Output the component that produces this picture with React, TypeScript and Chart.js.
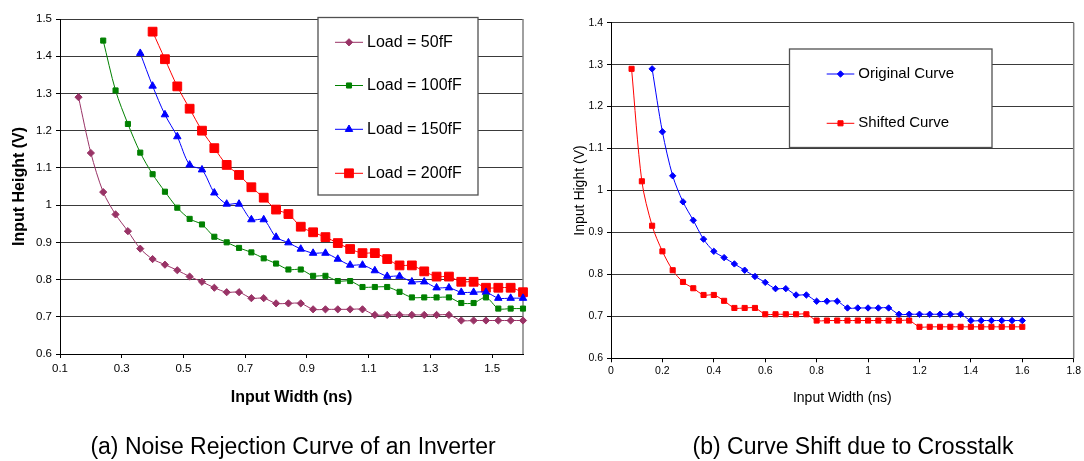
import React, { useEffect, useRef } from "react";
import { Chart, registerables } from "chart.js";

Chart.register(...registerables);

const FONT = '"Liberation Sans", Arial, Helvetica, sans-serif';

// ---------- Chart (a): Noise Rejection Curve of an Inverter ----------
const seriesNamesA = ["Load = 50fF", "Load = 100fF", "Load = 150fF", "Load = 200fF"];

const widths50 = [0.16, 0.2, 0.24, 0.28, 0.32, 0.36, 0.4, 0.44, 0.48, 0.52, 0.56, 0.6, 0.64, 0.68, 0.72, 0.76, 0.8, 0.84, 0.88, 0.92, 0.96, 1.0, 1.04, 1.08, 1.12, 1.16, 1.2, 1.24, 1.28, 1.32, 1.36, 1.4, 1.44, 1.48, 1.52, 1.56, 1.6];
const heights50 = [1.29, 1.14, 1.035, 0.975, 0.93, 0.883, 0.855, 0.84, 0.825, 0.808, 0.794, 0.778, 0.766, 0.766, 0.75, 0.75, 0.736, 0.736, 0.736, 0.72, 0.72, 0.72, 0.72, 0.72, 0.705, 0.705, 0.705, 0.705, 0.705, 0.705, 0.705, 0.69, 0.69, 0.69, 0.69, 0.69, 0.69];

const widths100 = [0.24, 0.28, 0.32, 0.36, 0.4, 0.44, 0.48, 0.52, 0.56, 0.6, 0.64, 0.68, 0.72, 0.76, 0.8, 0.84, 0.88, 0.92, 0.96, 1.0, 1.04, 1.08, 1.12, 1.16, 1.2, 1.24, 1.28, 1.32, 1.36, 1.4, 1.44, 1.48, 1.52, 1.56, 1.6];
const heights100 = [1.442, 1.308, 1.218, 1.141, 1.083, 1.036, 0.993, 0.963, 0.948, 0.915, 0.9, 0.885, 0.873, 0.857, 0.843, 0.827, 0.827, 0.81, 0.81, 0.796, 0.796, 0.78, 0.78, 0.78, 0.767, 0.752, 0.752, 0.752, 0.752, 0.737, 0.737, 0.752, 0.722, 0.722, 0.722];

const widths150 = [0.36, 0.4, 0.44, 0.48, 0.52, 0.56, 0.6, 0.64, 0.68, 0.72, 0.76, 0.8, 0.84, 0.88, 0.92, 0.96, 1.0, 1.04, 1.08, 1.12, 1.16, 1.2, 1.24, 1.28, 1.32, 1.36, 1.4, 1.44, 1.48, 1.52, 1.56, 1.6];
const heights150 = [1.408, 1.32, 1.243, 1.184, 1.108, 1.095, 1.033, 1.003, 1.003, 0.961, 0.961, 0.914, 0.899, 0.882, 0.871, 0.871, 0.855, 0.839, 0.839, 0.824, 0.809, 0.809, 0.794, 0.794, 0.778, 0.778, 0.766, 0.766, 0.766, 0.75, 0.75, 0.75];

const widths200 = [0.4, 0.44, 0.48, 0.52, 0.56, 0.6, 0.64, 0.68, 0.72, 0.76, 0.8, 0.84, 0.88, 0.92, 0.96, 1.0, 1.04, 1.08, 1.12, 1.16, 1.2, 1.24, 1.28, 1.32, 1.36, 1.4, 1.44, 1.48, 1.52, 1.56, 1.6];
const heights200 = [1.466, 1.392, 1.319, 1.259, 1.2, 1.153, 1.108, 1.081, 1.048, 1.02, 0.988, 0.976, 0.942, 0.927, 0.914, 0.898, 0.882, 0.871, 0.871, 0.855, 0.838, 0.838, 0.822, 0.808, 0.808, 0.794, 0.794, 0.778, 0.778, 0.778, 0.766];

const xTicksA = [0.1, 0.3, 0.5, 0.7, 0.9, 1.1, 1.3, 1.5];
const yTicksA = [0.6, 0.7, 0.8, 0.9, 1.0, 1.1, 1.2, 1.3, 1.4, 1.5];
const xTitleA = "Input Width (ns)";
const yTitleA = "Input Height (V)";
const captionA = "(a) Noise Rejection Curve of an Inverter";

// ---------- Chart (b): Curve Shift due to Crosstalk ----------
const seriesNamesB = ["Original Curve", "Shifted Curve"];

const widthsOriginal = [0.16, 0.2, 0.24, 0.28, 0.32, 0.36, 0.4, 0.44, 0.48, 0.52, 0.56, 0.6, 0.64, 0.68, 0.72, 0.76, 0.8, 0.84, 0.88, 0.92, 0.96, 1.0, 1.04, 1.08, 1.12, 1.16, 1.2, 1.24, 1.28, 1.32, 1.36, 1.4, 1.44, 1.48, 1.52, 1.56, 1.6];
const heightsOriginal = [1.29, 1.14, 1.035, 0.973, 0.929, 0.884, 0.855, 0.84, 0.825, 0.81, 0.795, 0.781, 0.766, 0.766, 0.751, 0.751, 0.736, 0.736, 0.736, 0.72, 0.72, 0.72, 0.72, 0.72, 0.705, 0.705, 0.705, 0.705, 0.705, 0.705, 0.705, 0.69, 0.69, 0.69, 0.69, 0.69, 0.69];

const widthsShifted = [0.08, 0.12, 0.16, 0.2, 0.24, 0.28, 0.32, 0.36, 0.4, 0.44, 0.48, 0.52, 0.56, 0.6, 0.64, 0.68, 0.72, 0.76, 0.8, 0.84, 0.88, 0.92, 0.96, 1.0, 1.04, 1.08, 1.12, 1.16, 1.2, 1.24, 1.28, 1.32, 1.36, 1.4, 1.44, 1.48, 1.52, 1.56, 1.6];
const heightsShifted = [1.29, 1.022, 0.916, 0.855, 0.81, 0.782, 0.767, 0.751, 0.751, 0.737, 0.72, 0.72, 0.72, 0.705, 0.705, 0.705, 0.705, 0.705, 0.69, 0.69, 0.69, 0.69, 0.69, 0.69, 0.69, 0.69, 0.69, 0.69, 0.675, 0.675, 0.675, 0.675, 0.675, 0.675, 0.675, 0.675, 0.675, 0.675, 0.675];

const xTicksB = [0, 0.2, 0.4, 0.6, 0.8, 1.0, 1.2, 1.4, 1.6, 1.8];
const yTicksB = [0.6, 0.7, 0.8, 0.9, 1.0, 1.1, 1.2, 1.3, 1.4];
const xTitleB = "Input Width (ns)";
const yTitleB = "Input Hight (V)";
const captionB = "(b) Curve Shift due to Crosstalk";

// ---------- helpers ----------
const toPoints = (xs: number[], ys: number[]) => xs.map((x, i) => ({ x, y: ys[i] }));
const fmt = (v: number) => String(Number(Number(v).toFixed(2)));

function drawMarker(ctx: CanvasRenderingContext2D, style: string, x: number, y: number, r: number, color: string) {
  ctx.save();
  ctx.fillStyle = color;
  ctx.strokeStyle = color;
  ctx.lineWidth = 1;
  ctx.beginPath();
  if (style === "rect") {
    const s = r * Math.SQRT1_2;
    ctx.rect(x - s, y - s, 2 * s, 2 * s);
  } else if (style === "rectRot") {
    ctx.moveTo(x, y - r);
    ctx.lineTo(x + r, y);
    ctx.lineTo(x, y + r);
    ctx.lineTo(x - r, y);
    ctx.closePath();
  } else {
    for (let k = 0; k < 3; k++) {
      const a = (k * 2 * Math.PI) / 3;
      const px = x + Math.sin(a) * r;
      const py = y - Math.cos(a) * r;
      if (k === 0) ctx.moveTo(px, py);
      else ctx.lineTo(px, py);
    }
    ctx.closePath();
  }
  ctx.fill();
  ctx.stroke();
  ctx.restore();
}

const boxLegend = {
  id: "boxLegend",
  afterDraw(chart: any, _args: any, o: any) {
    const { ctx } = chart;
    ctx.save();
    ctx.fillStyle = "#ffffff";
    ctx.fillRect(o.x, o.y, o.w, o.h);
    ctx.strokeStyle = "#505050";
    ctx.lineWidth = 1.3;
    ctx.strokeRect(o.x, o.y, o.w, o.h);
    chart.data.datasets.forEach((ds: any, i: number) => {
      const yy = o.rows[i];
      ctx.strokeStyle = ds.borderColor;
      ctx.lineWidth = 1;
      ctx.beginPath();
      ctx.moveTo(o.lineX1, yy);
      ctx.lineTo(o.lineX2, yy);
      ctx.stroke();
      drawMarker(ctx, ds.pointStyle, (o.lineX1 + o.lineX2) / 2, yy, ds.pointRadius, ds.pointBackgroundColor);
      ctx.fillStyle = "#000";
      ctx.font = `${o.fontSize}px ${FONT}`;
      ctx.textBaseline = "middle";
      ctx.textAlign = "left";
      ctx.fillText(ds.label, o.textX, yy);
    });
    ctx.restore();
  },
};

const plotFrame = {
  id: "plotFrame",
  beforeDatasetsDraw(chart: any) {
    const { ctx, chartArea } = chart;
    ctx.save();
    ctx.strokeStyle = "#808080";
    ctx.lineWidth = 1.5;
    ctx.beginPath();
    ctx.moveTo(chartArea.right, chartArea.top);
    ctx.lineTo(chartArea.right, chartArea.bottom);
    ctx.stroke();
    ctx.restore();
  },
};

function makeDataset(label: string, xs: number[], ys: number[], color: string, style: string, radius: number) {
  return {
    label,
    data: toPoints(xs, ys),
    borderColor: color,
    backgroundColor: color,
    pointBackgroundColor: color,
    pointBorderColor: color,
    pointStyle: style,
    pointRadius: radius,
    pointHoverRadius: radius,
    pointBorderWidth: 1,
    borderWidth: 1,
    tension: 0.3,
    fill: false,
    clip: false,
  };
}

function makeConfig(p: any) {
  return {
    type: "line",
    data: { datasets: p.datasets },
    plugins: [plotFrame, boxLegend],
    options: {
      responsive: false,
      maintainAspectRatio: false,
      animation: false,
      devicePixelRatio: 1,
      layout: { padding: p.padding },
      plugins: {
        legend: { display: false },
        tooltip: { enabled: false },
        boxLegend: p.legend,
      },
      scales: {
        x: {
          type: "linear",
          min: p.xMin,
          max: p.xMax,
          afterBuildTicks: (s: any) => {
            s.ticks = p.xTicks.map((v: number) => ({ value: v }));
          },
          afterFit: (s: any) => {
            s.height = p.xAxisHeight;
          },
          grid: { display: true, drawOnChartArea: false, drawTicks: true, tickLength: 4, tickColor: "#000", color: "#000" },
          border: { display: true, color: "#000", width: 1 },
          ticks: {
            color: "#000",
            font: { family: FONT, size: p.tickSize },
            padding: p.xTickPad,
            maxRotation: 0,
            autoSkip: false,
            callback: (v: any) => fmt(v),
          },
          title: {
            display: true,
            text: p.xTitle,
            color: "#000",
            font: { family: FONT, size: p.titleSize, weight: p.titleWeight },
            padding: { top: 4, bottom: 4 },
          },
        },
        y: {
          type: "linear",
          min: p.yMin,
          max: p.yMax,
          afterBuildTicks: (s: any) => {
            s.ticks = p.yTicks.map((v: number) => ({ value: v }));
          },
          afterFit: (s: any) => {
            s.width = p.yAxisWidth;
          },
          grid: { display: true, drawOnChartArea: true, drawTicks: true, tickLength: 4, tickColor: "#000", color: "#3a3a3a", lineWidth: 1 },
          border: { display: true, color: "#000", width: 1 },
          ticks: {
            color: "#000",
            font: { family: FONT, size: p.tickSize },
            padding: 4,
            autoSkip: false,
            callback: (v: any) => fmt(v),
          },
          title: {
            display: true,
            text: p.yTitle,
            color: "#000",
            font: { family: FONT, size: p.titleSize, weight: p.titleWeight },
            padding: { top: p.yTitlePad, bottom: 0 },
          },
        },
      },
    },
  };
}

function ChartCanvas({ config, width, height, left }: any) {
  const ref = useRef<HTMLCanvasElement | null>(null);
  useEffect(() => {
    if (!ref.current) return;
    const chart = new Chart(ref.current, config);
    return () => chart.destroy();
  }, []);
  return (
    <canvas
      ref={ref}
      width={width}
      height={height}
      style={{ position: "absolute", left, top: 0, width, height, display: "block" }}
    />
  );
}

export default function App() {
  const configA = makeConfig({
    datasets: [
      makeDataset(seriesNamesA[0], widths50, heights50, "#993366", "rectRot", 3.6),
      makeDataset(seriesNamesA[1], widths100, heights100, "#008000", "rect", 3.6),
      makeDataset(seriesNamesA[2], widths150, heights150, "#0000FF", "triangle", 4.3),
      makeDataset(seriesNamesA[3], widths200, heights200, "#FF0000", "rect", 6.2),
    ],
    padding: { left: 0, right: 27, top: 19, bottom: 49.4 },
    xMin: 0.1,
    xMax: 1.6,
    yMin: 0.6,
    yMax: 1.5,
    xTicks: xTicksA,
    yTicks: yTicksA,
    xAxisHeight: 57.6,
    yAxisWidth: 60,
    tickSize: 11.5,
    xTickPad: 4,
    titleSize: 16,
    titleWeight: "bold",
    xTitle: xTitleA,
    yTitle: yTitleA,
    yTitlePad: 10.4,
    legend: {
      x: 318,
      y: 17.5,
      w: 160,
      h: 177.5,
      rows: [42.3, 85.5, 129.3, 173.3],
      lineX1: 335,
      lineX2: 363,
      textX: 367,
      fontSize: 16,
    },
  });

  const configB = makeConfig({
    datasets: [
      makeDataset(seriesNamesB[0], widthsOriginal, heightsOriginal, "#0000FF", "rectRot", 3.2),
      makeDataset(seriesNamesB[1], widthsShifted, heightsShifted, "#FF0000", "rect", 3.6),
    ],
    padding: { left: 0, right: 8, top: 22.7, bottom: 50.6 },
    xMin: 0,
    xMax: 1.8,
    yMin: 0.6,
    yMax: 1.4,
    xTicks: xTicksB,
    yTicks: yTicksB,
    xAxisHeight: 52.1,
    yAxisWidth: 61,
    tickSize: 10.5,
    xTickPad: 3,
    titleSize: 14,
    titleWeight: "normal",
    xTitle: xTitleB,
    yTitle: yTitleB,
    yTitlePad: 21.6,
    legend: {
      x: 239.5,
      y: 49,
      w: 202.5,
      h: 98.5,
      rows: [74, 123.3],
      lineX1: 276.7,
      lineX2: 304.3,
      textX: 308.3,
      fontSize: 15,
    },
  });

  const captionStyle: any = {
    position: "absolute",
    top: 434.8,
    fontFamily: FONT,
    fontSize: 23,
    lineHeight: "23px",
    textAlign: "center",
    color: "#000",
    whiteSpace: "nowrap",
  };

  return (
    <div
      style={{
        position: "fixed",
        left: 0,
        top: 0,
        width: 1084,
        height: 461,
        background: "#ffffff",
        overflow: "hidden",
      }}
    >
      <ChartCanvas config={configA} width={550} height={461} left={0} />
      <ChartCanvas config={configB} width={534} height={461} left={550} />
      <div style={{ ...captionStyle, left: 0, width: 586 }}>{captionA}</div>
      <div style={{ ...captionStyle, left: 553, width: 600 }}>{captionB}</div>
    </div>
  );
}
